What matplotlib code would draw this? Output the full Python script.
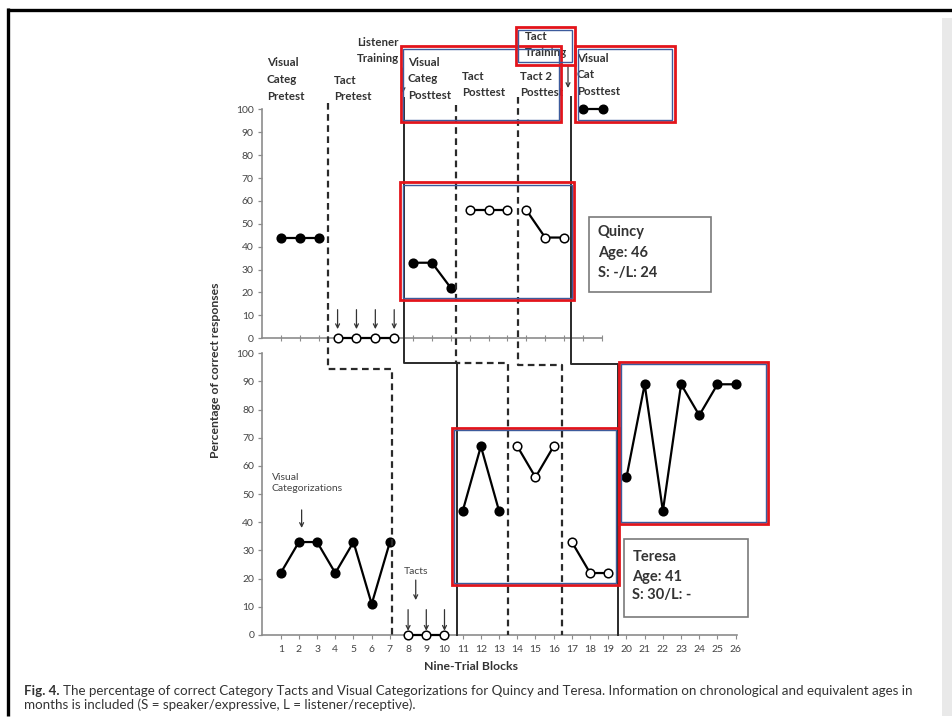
import matplotlib.pyplot as plt
from matplotlib.patches import Rectangle

plt.rcParams['font.family'] = ['Lato', 'DejaVu Sans']

W, H = 953, 721

# Quincy: blocks and percent correct per phase
q_blocks = [[1, 2, 3], [4, 5, 6, 7], [8, 9, 10], [11, 12, 13], [14, 15, 16]]
q_values = [[44, 44, 44], [0, 0, 0, 0], [33, 33, 22], [56, 56, 56], [56, 44, 44]]
q_filled = [True, False, True, False, False]

# Teresa: blocks and percent correct per phase
t_blocks = [[1, 2, 3, 4, 5, 6, 7], [8, 9, 10], [11, 12, 13], [14, 15, 16],
            [17, 18, 19], [20, 21, 22, 23, 24, 25, 26]]
t_values = [[22, 33, 33, 22, 33, 11, 33], [0, 0, 0], [44, 67, 44], [67, 56, 67],
            [33, 22, 22], [56, 89, 44, 89, 78, 89, 89]]
t_filled = [True, False, True, False, False, True]

# phase change lines: x in Quincy panel, x in Teresa panel, step height (Teresa units)
ph_top_x = [3.5, 7.52, 10.3, 13.58, 16.37]
ph_top_y = [102.7, 104.9, 101.9, 105.4, 105.4]
ph_bot_x = [7.13, 10.66, 13.5, 16.48, 19.55]
ph_step = [94.3, 96.4, 96.4, 95.8, 96.1]
ph_solid = [False, True, False, False, True]

# phase headings (pixel positions, centre of first line)
headings = ["Visual\nCateg\nPretest", "Tact\nPretest", "Listener\nTraining",
            "Visual\nCateg\nPosttest", "Tact\nPosttest", "Tact 2\nPosttest",
            "Tact\nTraining", "Visual\nCat\nPosttest"]
head_x = [267, 334, 357, 408, 462, 520, 525, 577]
head_y = [63, 80, 42, 62, 76, 76, 36, 58]

yticks = list(range(0, 101, 10))

fig = plt.figure(figsize=(W / 100, H / 100), dpi=100)
fig.patch.set_facecolor('white')


def px_axes(x0, x1, y_top, y_bot):
    return fig.add_axes([x0 / W, 1 - y_bot / H, (x1 - x0) / W, (y_bot - y_top) / H])


axq = px_axes(262.1, 601.8, 109.3, 338.3)
axt = px_axes(262.5, 737.5, 353.3, 635.0)
axq.set_xlim(0, 18)
axt.set_xlim(0, 26.1)

gray = '#8c8c8c'
for ax in (axq, axt):
    ax.set_ylim(0, 100)
    ax.set_facecolor('none')
    for s in ('top', 'right'):
        ax.spines[s].set_visible(False)
    for s in ('left', 'bottom'):
        ax.spines[s].set_color(gray)
        ax.spines[s].set_linewidth(1.2)
    ax.set_yticks(yticks)
    ax.tick_params(axis='y', direction='out', length=3, width=0.9, color=gray,
                   labelsize=7.5, labelcolor='#444', pad=3)

axq.set_xticks(range(1, 19))
axq.tick_params(axis='x', direction='inout', length=4, width=0.8, color=gray,
                labelbottom=False)
axt.set_xticks(range(1, 27))
axt.tick_params(axis='x', direction='out', length=3, width=0.8, color=gray,
                labelsize=7.5, labelcolor='#444', pad=4)


def draw_series(ax, blocks, values, filled):
    for b, v, f in zip(blocks, values, filled):
        ax.plot(b, v, color='black', lw=1.6, marker='o', ms=6.2,
                mfc='black' if f else 'white', mec='black', mew=1.1,
                clip_on=False, zorder=4)


draw_series(axq, q_blocks, q_values, q_filled)
draw_series(axt, t_blocks, t_values, t_filled)

arrow = dict(arrowstyle='->', lw=0.9, color='#333', mutation_scale=7,
             shrinkA=0, shrinkB=0)
for b in q_blocks[1]:
    axq.annotate('', xy=(b, 4), xytext=(b, 12.5), arrowprops=arrow,
                 annotation_clip=False)
for b in t_blocks[1]:
    axt.annotate('', xy=(b, 1.5), xytext=(b, 9), arrowprops=arrow,
                 annotation_clip=False)
axt.annotate('', xy=(8.42, 12.4), xytext=(8.42, 19.5), arrowprops=arrow)
axt.annotate('', xy=(2.15, 38), xytext=(2.15, 44.4), arrowprops=arrow)
axt.text(0.5, 57.5, "Visual\nCategorizations", fontsize=7.5, color='#444',
         va='top', ha='left', linespacing=1.35)
axt.text(7.75, 22.7, "Tacts", fontsize=7.5, color='#444', va='center', ha='left')

# overlay in pixel coordinates
ov = fig.add_axes([0, 0, 1, 1], zorder=10)
ov.set_xlim(0, W)
ov.set_ylim(H, 0)
ov.axis('off')


def to_px(ax, x, y):
    d = ax.transData.transform((x, y))
    return d[0], H - d[1]


for tx, ty, bx, st, solid in zip(ph_top_x, ph_top_y, ph_bot_x, ph_step, ph_solid):
    x0, y0 = to_px(axq, tx, ty)
    x1, y1 = to_px(axt, bx, st)
    _, yb = to_px(axt, bx, 0)
    ov.plot([x0, x0, x1, x1], [y0, y1, y1, yb], color='#2a2a2a',
            lw=1.4 if solid else 1.6,
            ls='-' if solid else (0, (3, 2)), zorder=2)

for txt, x, y in zip(headings, head_x, head_y):
    for i, line in enumerate(txt.split('\n')):
        ov.text(x, y + i * 16.7, line, fontsize=8.3, fontweight='bold',
                color='#333', va='center', ha='left')

ov.annotate('', xy=(403, 93), xytext=(403, 68), arrowprops=arrow)
ov.annotate('', xy=(568, 88), xytext=(568, 66), arrowprops=arrow)
ov.plot([583, 603], [109, 109], color='black', lw=1.6, marker='o', ms=6.2)

# participant boxes
for (x0, y0, x1, y1), lines, ys in [
        ((589.3, 216.7, 710.7, 291.7), ["Quincy", "Age: 46", "S: -/L: 24"], [231.7, 253, 273]),
        ((624, 539.3, 748.3, 617.3), ["Teresa", "Age: 41", "S: 30/L: -"], [556.7, 576.7, 595])]:
    ov.add_patch(Rectangle((x0, y0), x1 - x0, y1 - y0, fc='white', ec='#7a7a7a',
                           lw=1.2, zorder=3))
    for s, y in zip(lines, ys):
        ov.text(x0 + 8.5, y, s, fontsize=10.5, fontweight='bold', color='#333',
                va='center', ha='left', zorder=4)

# highlight boxes
marks = [(399.3, 45, 562.7, 123.3), (514.3, 26, 576, 66), (574, 45, 676, 123.3),
         (399, 181, 575.7, 301.7), (450.7, 426.5, 620, 586.7),
         (617.3, 360.7, 769.3, 525.7)]
for x0, y0, x1, y1 in marks:
    ov.add_patch(Rectangle((x0 + 1.4, y0 + 1.4), x1 - x0 - 2.8, y1 - y0 - 2.8,
                           fill=False, ec='#e3141b', lw=2.0, zorder=6))
    ov.add_patch(Rectangle((x0 + 3.6, y0 + 3.6), x1 - x0 - 7.2, y1 - y0 - 7.2,
                           fill=False, ec='#3d5b9c', lw=1.0, zorder=6))

ov.text(216, 370, "Percentage of correct responses", rotation=90, fontsize=8.8,
        fontweight='bold', color='#333', ha='center', va='center')
ov.text(471, 667, "Nine-Trial Blocks", fontsize=8.8, fontweight='bold',
        color='#333', ha='center', va='center')

# caption
fig.canvas.draw()
fig_lbl = ov.text(24, 691, "Fig. 4.", fontsize=9.6, fontweight='bold', color='#333',
                  va='center', ha='left')
bb = fig_lbl.get_window_extent(renderer=fig.canvas.get_renderer())
ov.text(bb.x1 + 4, 691, "The percentage of correct Category Tacts and Visual "
        "Categorizations for Quincy and Teresa. Information on chronological and "
        "equivalent ages in", fontsize=9.6, color='#333', va='center', ha='left')
ov.text(24, 705, "months is included (S = speaker/expressive, L = listener/receptive).",
        fontsize=9.6, color='#333', va='center', ha='left')

# page frame
ov.plot([7, W], [9.5, 9.5], color='black', lw=2.4, solid_capstyle='butt')
ov.plot([8.5, 8.5], [8, 716], color='black', lw=2.4, solid_capstyle='butt')
ov.add_patch(Rectangle((942, 18), 11, 698, fc='#e9e9e9', ec='none'))

fig.savefig('out.png', dpi=100)
